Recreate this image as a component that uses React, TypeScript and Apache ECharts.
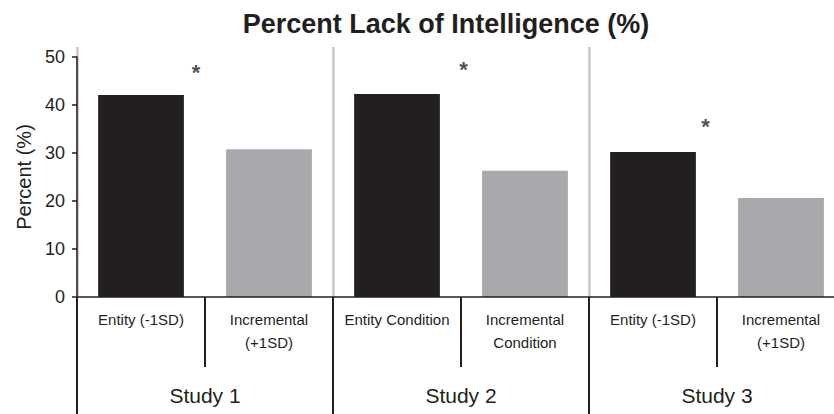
import React, { useEffect, useRef } from "react";
import * as echarts from "echarts";

const categories = [
  "Entity (-1SD)",
  "Incremental\n(+1SD)",
  "Entity Condition",
  "Incremental\nCondition",
  "Entity (-1SD)",
  "Incremental\n(+1SD)",
];
const values = [42.1, 30.8, 42.3, 26.3, 30.2, 20.6];
const barColors = ["#231f20", "#a7a9ac", "#231f20", "#a7a9ac", "#231f20", "#a7a9ac"];
const studies = ["Study 1", "Study 2", "Study 3"];
const starX = [0.93, 3.02, 4.91];
const starY = [46.8, 47.5, 35.6];

export default function App() {
  const ref = useRef<HTMLDivElement>(null);
  useEffect(() => {
    if (!ref.current) return;
    const chart = echarts.init(ref.current, null, { renderer: "svg" });
    const font = "Liberation Sans, Arial, sans-serif";
    chart.setOption({
      animation: false,
      textStyle: { fontFamily: font },
      title: {
        text: "Percent Lack of Intelligence (%)",
        left: 441,
        textAlign: "center",
        top: 5,
        textStyle: { fontSize: 27, fontWeight: "bold", color: "#231f20", fontFamily: font },
      },
      grid: [
        { left: 77, top: 57, width: 768, height: 240, containLabel: false },
        { left: 77, top: 47, width: 768, height: 250, containLabel: false },
      ],
      xAxis: [
        {
          type: "category",
          gridIndex: 0,
          data: categories,
          z: 5,
          axisLine: { lineStyle: { color: "#231f20", width: 1.5 } },
          axisTick: { show: true, length: 70, interval: 0, lineStyle: { color: "#231f20", width: 2 } },
          axisLabel: {
            interval: 0,
            margin: 11,
            fontSize: 15,
            lineHeight: 23,
            color: "#231f20",
            fontFamily: font,
          },
          splitLine: { show: false },
        },
        {
          type: "category",
          gridIndex: 1,
          data: studies,
          position: "bottom",
          axisLine: { show: false },
          axisTick: { show: true, length: 117, interval: 0, lineStyle: { color: "#231f20", width: 2 } },
          axisLabel: { interval: 0, margin: 88, fontSize: 21, color: "#231f20", fontFamily: font },
          splitLine: { show: true, interval: 0, lineStyle: { color: "#c4c6c8", width: 2.5 } },
        },
        {
          type: "value",
          gridIndex: 0,
          min: 0,
          max: 6,
          show: false,
        },
      ],
      yAxis: [
        {
          type: "value",
          gridIndex: 0,
          min: 0,
          max: 50,
          interval: 10,
          name: "Percent (%)",
          nameLocation: "middle",
          nameGap: 42,
          nameTextStyle: { fontSize: 20, color: "#231f20", fontFamily: font },
          axisLine: { show: true, lineStyle: { color: "#231f20", width: 1.5 } },
          axisTick: { show: true, length: 5, lineStyle: { color: "#231f20", width: 1.5 } },
          axisLabel: { fontSize: 18, margin: 12, color: "#231f20", fontFamily: font },
          splitLine: { show: false },
        },
        { type: "value", gridIndex: 1, show: false, min: 0, max: 52 },
      ],
      series: [
        {
          type: "bar",
          xAxisIndex: 0,
          yAxisIndex: 0,
          barWidth: "67%",
          data: values.map((v, i) => ({ value: v, itemStyle: { color: barColors[i] } })),
        },
        {
          type: "scatter",
          xAxisIndex: 2,
          yAxisIndex: 0,
          symbolSize: 1,
          itemStyle: { color: "transparent" },
          data: starX.map((x, i) => [x, starY[i]]),
          label: {
            show: true,
            position: "inside",
            formatter: "*",
            fontSize: 22,
            fontWeight: "bold",
            color: "#231f20",
            fontFamily: font,
          },
        },
      ],
    });
    return () => chart.dispose();
  }, []);
  return (
    <div style={{ width: 834, height: 414, position: "absolute", left: 0, top: 0, overflow: "hidden" }}>
      <div ref={ref} style={{ width: 860, height: 414 }} />
    </div>
  );
}
